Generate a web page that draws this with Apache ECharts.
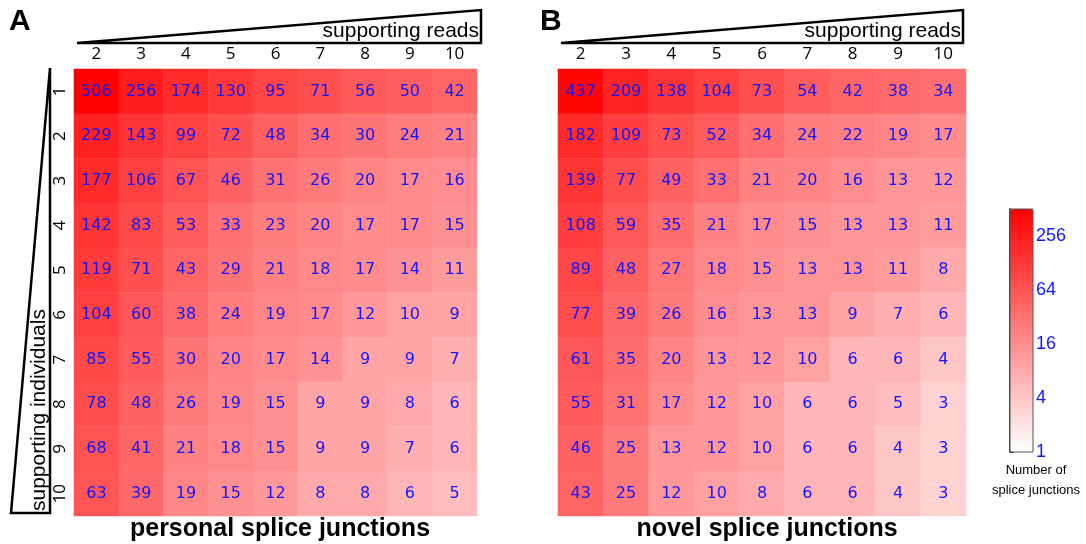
<!DOCTYPE html>
<html><head><meta charset="utf-8">
<script src="https://cdn.jsdelivr.net/npm/echarts@6/dist/echarts.min.js"></script>
<style>html,body{margin:0;padding:0;background:#fff}#c{width:1086px;height:544px}</style>
</head><body><div id="c"></div>
<script>
// ---- data ----
var readCats = ['2','3','4','5','6','7','8','9','10'];          // supporting reads (columns)
var indivCats = ['1','2','3','4','5','6','7','8','9','10'];     // supporting individuals (rows)
var personal = [
  [506,256,174,130,95,71,56,50,42],
  [229,143,99,72,48,34,30,24,21],
  [177,106,67,46,31,26,20,17,16],
  [142,83,53,33,23,20,17,17,15],
  [119,71,43,29,21,18,17,14,11],
  [104,60,38,24,19,17,12,10,9],
  [85,55,30,20,17,14,9,9,7],
  [78,48,26,19,15,9,9,8,6],
  [68,41,21,18,15,9,9,7,6],
  [63,39,19,15,12,8,8,6,5]
];
var novel = [
  [437,209,138,104,73,54,42,38,34],
  [182,109,73,52,34,24,22,19,17],
  [139,77,49,33,21,20,16,13,12],
  [108,59,35,21,17,15,13,13,11],
  [89,48,27,18,15,13,13,11,8],
  [77,39,26,16,13,13,9,7,6],
  [61,35,20,13,12,10,6,6,4],
  [55,31,17,12,10,6,6,5,3],
  [46,25,13,12,10,6,6,4,3],
  [43,25,12,10,8,6,6,4,3]
];
var colorTicks = [1,4,16,64,256];
var colorMax = 506;

function log4(v){ return Math.log(v)/Math.log(4); }
function toCells(m){
  var out=[];
  for(var r=0;r<m.length;r++) for(var c=0;c<m[r].length;c++) out.push([c,r,m[r][c],log4(m[r][c])]);
  return out;
}

var chart = echarts.init(document.getElementById('c'));
var labelStyle = {show:true, color:'#1414ff', fontSize:16, fontFamily:'DejaVu Sans',
  formatter:function(p){return p.value[2];}};
var xAxisCommon = {type:'category', position:'top', data:readCats,
  axisLine:{show:false}, axisTick:{show:false}, splitLine:{show:false},
  axisLabel:{color:'#000', fontSize:17, fontFamily:'Open Sans', margin:6}};

chart.setOption({
  animation:false,
  grid:[
    {left:74, top:69, width:403, height:447},
    {left:558, top:69, width:408, height:447},
    {left:1010, top:209, width:23, height:243, show:true, borderColor:'#555', borderWidth:1, backgroundColor:'transparent', z:10}
  ],
  xAxis:[
    Object.assign({gridIndex:0}, xAxisCommon),
    Object.assign({gridIndex:1}, xAxisCommon),
    {gridIndex:2, type:'value', show:false, min:0, max:1}
  ],
  yAxis:[
    {gridIndex:0, type:'category', inverse:true, data:indivCats,
      axisLine:{show:false}, axisTick:{show:false},
      axisLabel:{color:'#000', fontSize:17, fontFamily:'Open Sans', rotate:90, margin:5}},
    {gridIndex:1, type:'category', inverse:true, data:indivCats, show:false},
    {gridIndex:2, type:'value', position:'right', min:0, max:log4(colorMax), interval:1,
      axisLine:{show:true, lineStyle:{color:'#000', width:1.5}},
      axisTick:{show:true, inside:false, length:4, lineStyle:{color:'#000', width:1.5}},
      splitLine:{show:false},
      axisLabel:{color:'#1414ff', fontSize:18, fontFamily:'Liberation Sans', margin:3, showMaxLabel:false,
        formatter:function(v){ var t=Math.round(Math.pow(4,v)); return colorTicks.indexOf(t)>=0? String(t):''; }}}
  ],
  visualMap:{type:'continuous', min:0, max:log4(colorMax), dimension:3, seriesIndex:[0,1],
    inRange:{color:['#ffffff','#ff0000']}, left:1010, top:209, itemWidth:23, itemHeight:243,
    padding:0, calculable:false, hoverLink:false, text:null, showLabel:false},
  series:[
    {type:'heatmap', xAxisIndex:0, yAxisIndex:0, data:toCells(personal), label:labelStyle, emphasis:{disabled:true}},
    {type:'heatmap', xAxisIndex:1, yAxisIndex:1, data:toCells(novel), label:labelStyle, emphasis:{disabled:true}}
  ],
  title:[
    {text:'personal splice junctions', left:275, top:512, textAlign:'center',
      textStyle:{fontSize:25, fontWeight:'bold', fontFamily:'Liberation Sans', color:'#000'}},
    {text:'novel splice junctions', left:762, top:512, textAlign:'center',
      textStyle:{fontSize:25, fontWeight:'bold', fontFamily:'Liberation Sans', color:'#000'}}
  ],
  graphic:[
    {type:'text', left:9, top:7, style:{text:'A', font:'bold 30px "Liberation Sans"', fill:'#000'}},
    {type:'text', left:540, top:7, style:{text:'B', font:'bold 30px "Liberation Sans"', fill:'#000'}},
    {type:'polygon', shape:{points:[[77,43],[481,10],[481,43]]}, style:{fill:'none', stroke:'#000', lineWidth:2.5}},
    {type:'polygon', shape:{points:[[561,43],[963,10],[963,43]]}, style:{fill:'none', stroke:'#000', lineWidth:2.5}},
    {type:'polygon', shape:{points:[[50,68],[50,513],[11,513]]}, style:{fill:'none', stroke:'#000', lineWidth:2.5}},
    {type:'text', x:479, y:31, style:{text:'supporting reads', font:'21px "Liberation Sans"', fill:'#000', align:'right', verticalAlign:'middle'}},
    {type:'text', x:961, y:31, style:{text:'supporting reads', font:'21px "Liberation Sans"', fill:'#000', align:'right', verticalAlign:'middle'}},
    {type:'text', x:39, y:511, rotation:Math.PI/2, style:{text:'supporting individuals', font:'21px "Liberation Sans"', fill:'#000', align:'left', verticalAlign:'middle'}},
    {type:'text', x:1036, y:470, style:{text:'Number of', font:'13px "Liberation Sans"', fill:'#000', align:'center', verticalAlign:'middle'}},
    {type:'text', x:1036, y:490, style:{text:'splice junctions', font:'13px "Liberation Sans"', fill:'#000', align:'center', verticalAlign:'middle'}}
  ]
});
</script></body></html>
